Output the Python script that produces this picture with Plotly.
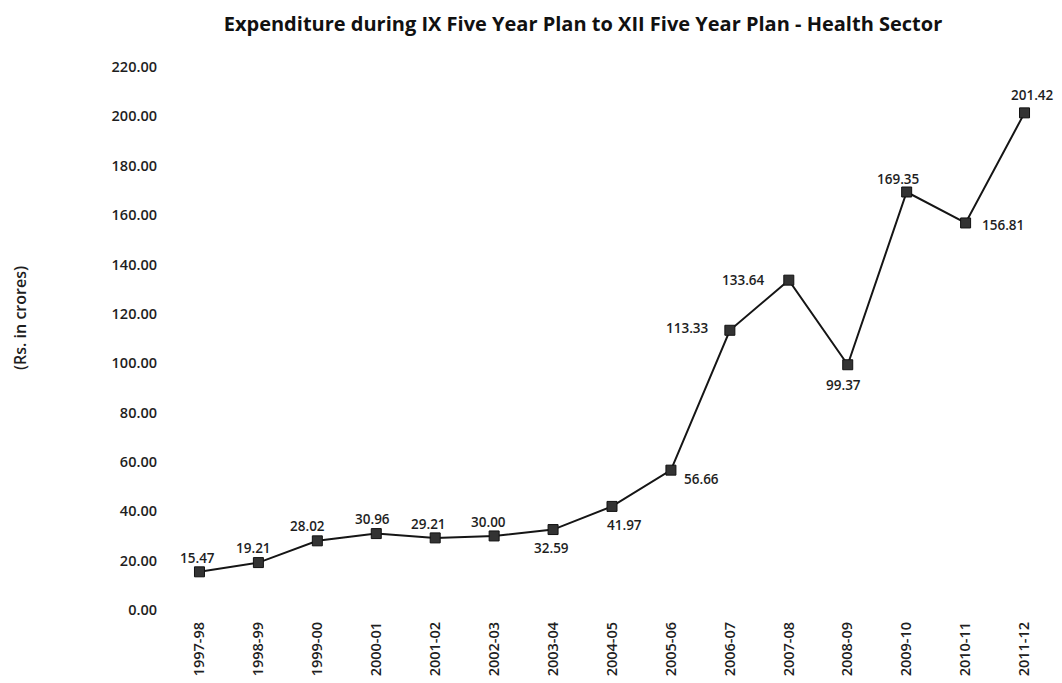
import plotly.graph_objects as go

years = ["1997-98", "1998-99", "1999-00", "2000-01", "2001-02", "2002-03", "2003-04",
         "2004-05", "2005-06", "2006-07", "2007-08", "2008-09", "2009-10", "2010-11", "2011-12"]
expenditure = [15.47, 19.21, 28.02, 30.96, 29.21, 30.00, 32.59,
               41.97, 56.66, 113.33, 133.64, 99.37, 169.35, 156.81, 201.42]
y_ticks = [0, 20, 40, 60, 80, 100, 120, 140, 160, 180, 200, 220]

# label placement offsets (pixels, dx right, dy down) relative to each marker
label_offsets = [(-2, -14), (-5, -15), (-10, -15), (-4, -15), (-7, -14), (-6, -14), (-2, 18),
                 (12, 19), (31, 9), (-42, -2), (-45, 0), (-4, 20), (-8, -13), (37, 2), (8, -18)]

FONT = "Open Sans"
W, H = 1054, 675
L, R, T, B = 162, 8, 59, 73

fig = go.Figure()
fig.add_trace(go.Scatter(
    x=list(range(len(years))), y=expenditure,
    mode="lines+markers",
    line=dict(color="#151515", width=2),
    marker=dict(symbol="square", size=10, color="#333333", line=dict(color="#111111", width=1)),
    showlegend=False,
))

annotations = []
for i, (v, (dx, dy)) in enumerate(zip(expenditure, label_offsets)):
    annotations.append(dict(x=i, y=v, xref="x", yref="y", text=f"{v:.2f}", showarrow=False,
                            xanchor="center", yanchor="middle", xshift=dx, yshift=-dy,
                            font=dict(family=FONT, size=13.5, color="#1e1e1e", weight=600)))

plot_w = W - L - R
plot_h = H - T - B
annotations.append(dict(text="(Rs. in crores)", textangle=-90, xref="paper", yref="paper",
                        x=(12 - L) / plot_w, y=(H - B - 310) / plot_h,
                        xanchor="center", yanchor="middle", showarrow=False,
                        font=dict(family=FONT, size=16, color="#1e1e1e", weight=600)))

fig.update_layout(
    width=W, height=H,
    margin=dict(l=L, r=R, t=T, b=B),
    paper_bgcolor="white", plot_bgcolor="white",
    title=dict(text="Expenditure during IX Five Year Plan to XII Five Year Plan - Health Sector",
               x=575 / W, xanchor="center", y=1 - 16 / H, yanchor="middle",
               font=dict(family=FONT, size=20, color="#111", weight=700)),
    xaxis=dict(tickmode="array", tickvals=list(range(len(years))), ticktext=years,
               tickangle=-90, range=[-0.5, 14.5], showgrid=False, zeroline=False,
               showline=False, ticks="", ticklabelstandoff=8,
               tickfont=dict(family=FONT, size=14.5, color="#1e1e1e", weight=600)),
    yaxis=dict(range=[0, 220], tickvals=y_ticks, tickformat=".2f", showgrid=False,
               zeroline=False, showline=False, ticks="", ticklabelstandoff=12,
               tickfont=dict(family=FONT, size=14.5, color="#1e1e1e", weight=600)),
    annotations=annotations,
)
fig.write_html("out.html")
